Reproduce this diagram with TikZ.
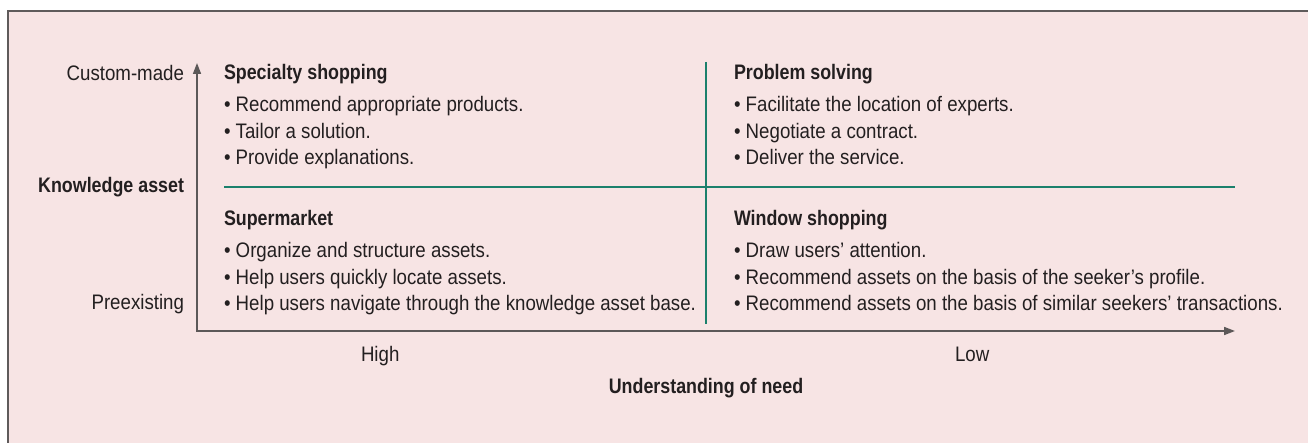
\documentclass[tikz,border=0pt]{standalone}
\usepackage{fontspec}
\setmainfont{Liberation Sans}[FakeStretch=0.89]
\newfontfamily\headfont{Liberation Sans}[FakeStretch=0.85]
\usetikzlibrary{arrows.meta}
\definecolor{panel}{HTML}{F7E4E4}
\definecolor{framegray}{HTML}{5F5B5B}
\definecolor{quadgreen}{HTML}{1B806C}
\definecolor{ink}{HTML}{231F20}
\definecolor{axisgray}{HTML}{5C5858}
\begin{document}
\begin{tikzpicture}[x=1pt,y=-1pt,
  txt/.style={font=\fontsize{21}{26}\selectfont, text=ink, inner sep=0pt, outer sep=0pt, anchor=base west},
  head/.style={txt, font=\fontsize{21}{26}\selectfont\headfont\bfseries},
  sidelabel/.style={txt, anchor=base east},
  sidehead/.style={head, anchor=base east},
  axislabel/.style={txt, anchor=base west},
  axisline/.style={draw=axisgray, line width=1.6pt, {Triangle[length=11pt,width=8pt]}-{Triangle[length=11pt,width=8pt]}},
  divider/.style={draw=quadgreen, line width=2.6pt},
  frameline/.style={draw=framegray, line width=2pt}]
\useasboundingbox (0,0) rectangle (1308,443);
\clip (0,0) rectangle (1308,443);
% panel
\fill[panel] (7,10) rectangle (1330,460);
\draw[frameline] (7.7,460) -- (7.7,10.7) -- (1330,10.7);
% axes
\coordinate (ytop) at (197,63);
\coordinate (origin) at (197,331);
\coordinate (xend) at (1235,331);
\draw[axisline] (ytop) -- (origin) -- (xend);
% dividers
\coordinate (hl) at (224,187);
\coordinate (hr) at (1235,187);
\coordinate (vt) at (706,62);
\coordinate (vb) at (706,324);
\draw[divider] (hl) -- (hr);
\draw[divider] (vt) -- (vb);
% side labels
\node[sidelabel] (custom) at (184,81) {Custom-made};
\node[sidehead] (kasset) at (184,193) {Knowledge asset};
\node[sidelabel] (preex) at (184,310) {Preexisting};
% bottom labels
\node[axislabel] (high) at (361,361) {High};
\node[axislabel] (low) at (955,361) {Low};
\node[head, anchor=base] (need) at (706,393) {Understanding of need};
% specialty shopping
\node[head] (sp) at (224,80) {Specialty shopping};
\node[txt] (sp1) at (224,112) {• Recommend appropriate products.};
\node[txt] (sp2) at (224,138.5) {• Tailor a solution.};
\node[txt] (sp3) at (224,165) {• Provide explanations.};
% problem solving
\node[head] (ps) at (734,80) {Problem solving};
\node[txt] (ps1) at (734,112) {• Facilitate the location of experts.};
\node[txt] (ps2) at (734,138.5) {• Negotiate a contract.};
\node[txt] (ps3) at (734,165) {• Deliver the service.};
% supermarket
\node[head] (sm) at (224,226) {Supermarket};
\node[txt] (sm1) at (224,258) {• Organize and structure assets.};
\node[txt] (sm2) at (224,284.5) {• Help users quickly locate assets.};
\node[txt] (sm3) at (224,311) {• Help users navigate through the knowledge asset base.};
% window shopping
\node[head] (ws) at (734,226) {Window shopping};
\node[txt] (ws1) at (734,258) {• Draw users’ attention.};
\node[txt] (ws2) at (734,284.5) {• Recommend assets on the basis of the seeker’s profile.};
\node[txt] (ws3) at (734,311) {• Recommend assets on the basis of similar seekers’ transactions.};
\end{tikzpicture}
\end{document}
